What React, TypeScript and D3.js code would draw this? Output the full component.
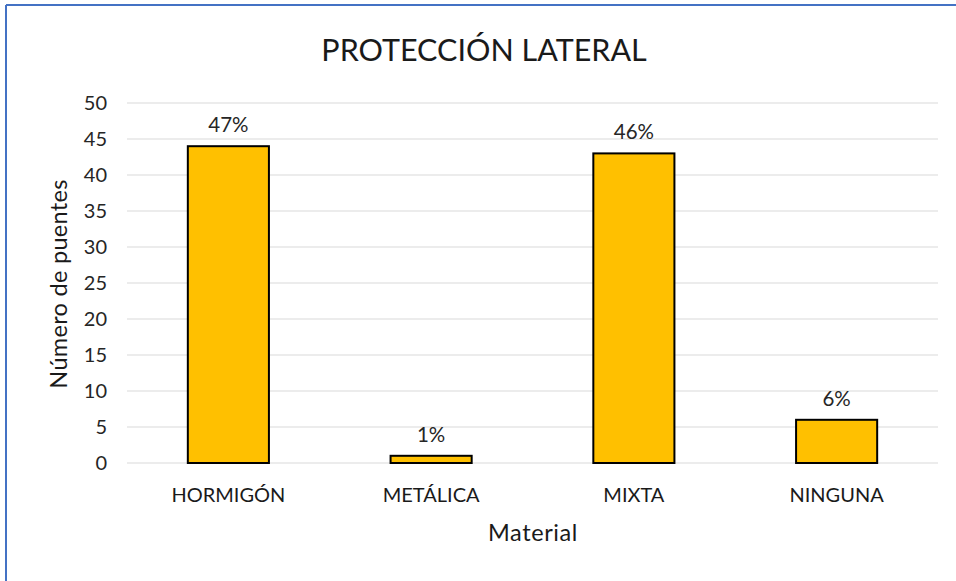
import React from "react";
import * as d3 from "d3";

const categories = ["HORMIGÓN", "METÁLICA", "MIXTA", "NINGUNA"];
const values = [44, 1, 43, 6];
const percentLabels = ["47%", "1%", "46%", "6%"];
const yTicks = [0, 5, 10, 15, 20, 25, 30, 35, 40, 45, 50];

const W = 956;
const H = 581;
const FONT = "Lato, 'Open Sans', sans-serif";

export default function App() {
  const x = d3
    .scaleBand<string>()
    .domain(categories)
    .range([127, 938])
    .paddingInner(0.6)
    .paddingOuter(0.3);
  const y = d3.scaleLinear().domain([0, 50]).range([463, 103]);

  return (
    <svg
      width={W}
      height={H}
      style={{ position: "absolute", left: 0, top: 0, background: "#fff" }}
    >
      <rect x={0} y={0} width={W} height={H} fill="#fff" />
      <line x1={6} y1={5} x2={W} y2={5} stroke="#4472C4" strokeWidth={2} />
      <line x1={6} y1={5} x2={6} y2={H} stroke="#4472C4" strokeWidth={2} />
      <text
        x={484}
        y={61}
        textAnchor="middle"
        fontFamily={FONT}
        fontSize={30.5}
        fill="#1a1a1a"
      >
        PROTECCIÓN LATERAL
      </text>
      {yTicks.map((t) => (
        <g key={t}>
          <line
            x1={127}
            x2={938}
            y1={y(t)}
            y2={y(t)}
            stroke="#d9d9d9"
            strokeWidth={1.2}
          />
          <text
            x={107}
            y={y(t)}
            dy="0.36em"
            textAnchor="end"
            fontFamily={FONT}
            fontSize={20}
            fill="#262626"
          >
            {t}
          </text>
        </g>
      ))}
      {categories.map((c, i) => (
        <g key={c}>
          <rect
            x={x(c)}
            y={y(values[i])}
            width={x.bandwidth()}
            height={y(0) - y(values[i])}
            fill="#FFC000"
            stroke="#000"
            strokeWidth={2}
          />
          <text
            x={(x(c) as number) + x.bandwidth() / 2}
            y={y(values[i]) - 14}
            textAnchor="middle"
            fontFamily={FONT}
            fontSize={20.5}
            fill="#262626"
          >
            {percentLabels[i]}
          </text>
          <text
            x={(x(c) as number) + x.bandwidth() / 2}
            y={502}
            textAnchor="middle"
            fontFamily={FONT}
            fontSize={20}
            fill="#1a1a1a"
          >
            {c}
          </text>
        </g>
      ))}
      <text
        x={533}
        y={541}
        textAnchor="middle"
        fontFamily={FONT}
        fontSize={23.5}
        letterSpacing={0.6}
        fill="#1a1a1a"
      >
        Material
      </text>
      <text
        transform={`translate(67,284) rotate(-90)`}
        textAnchor="middle"
        fontFamily={FONT}
        fontSize={23.5}
        letterSpacing={0.3}
        fill="#1a1a1a"
      >
        Número de puentes
      </text>
    </svg>
  );
}
